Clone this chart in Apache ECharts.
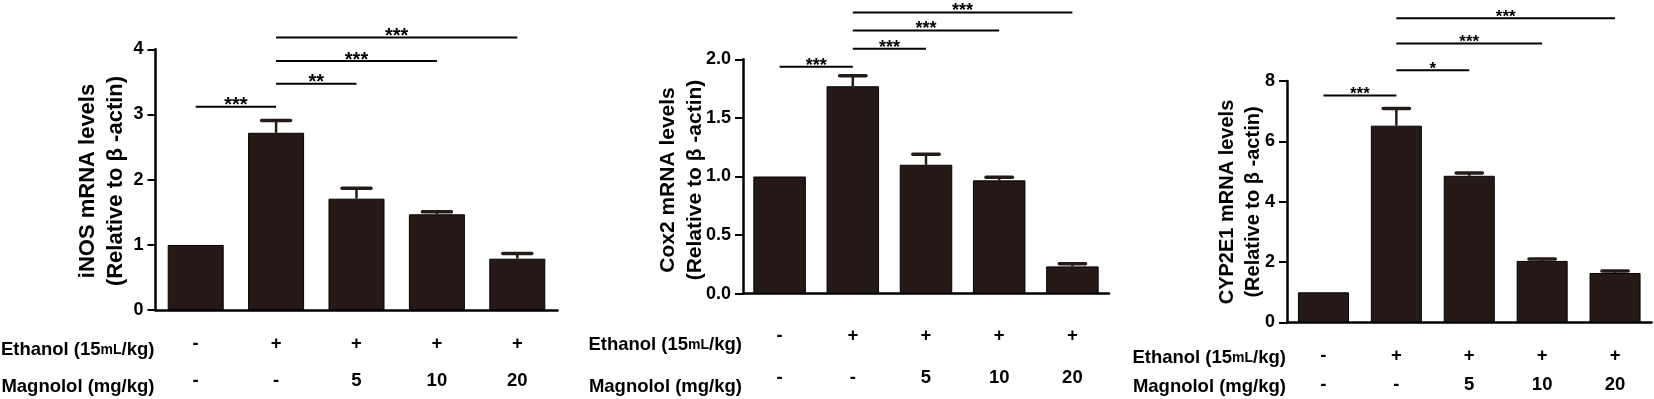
<!DOCTYPE html>
<html>
<head>
<meta charset="utf-8">
<title>mRNA levels</title>
<script src="https://cdn.jsdelivr.net/npm/echarts@6/dist/echarts.min.js"></script>
<style>
  html, body { margin: 0; padding: 0; background: #fff; }
  #chart { width: 1654px; height: 399px; }
</style>
</head>
<body>
<div id="chart"></div>
<script>
// groups and treatment rows
const groups = ['Control', 'Ethanol', 'Ethanol+Mag5', 'Ethanol+Mag10', 'Ethanol+Mag20'];
const ethanolRow = ['-', '+', '+', '+', '+'];
const magnololRow = ['-', '-', '5', '10', '20'];

// mean values and upper error (SEM)
const inosMean = [1.0, 2.72, 1.71, 1.47, 0.79];
const inosErr = [0, 0.19, 0.16, 0.04, 0.08];
const cox2Mean = [1.0, 1.77, 1.10, 0.967, 0.233];
const cox2Err = [0, 0.09, 0.09, 0.027, 0.022];
const cypMean = [1.0, 6.52, 4.86, 2.04, 1.64];
const cypErr = [0, 0.57, 0.09, 0.06, 0.07];

// significance brackets: [from group, to group, height]
const inosSig = [[0, 1, 3.12], [1, 2, 3.47], [1, 3, 3.82], [1, 4, 4.18]];
const inosStars = ['***', '**', '***', '***'];
const cox2Sig = [[0, 1, 1.937], [1, 2, 2.09], [1, 3, 2.246], [1, 4, 2.40]];
const cox2Stars = ['***', '***', '***', '***'];
const cypSig = [[0, 1, 7.52], [1, 2, 8.36], [1, 3, 9.24], [1, 4, 10.08]];
const cypStars = ['***', '*', '***', '***'];

const ink = '#000';
const barColor = '#251a17';
const font = 'Arial, "Liberation Sans", sans-serif';

const panels = [
  {
    mean: inosMean, err: inosErr, sig: inosSig, stars: inosStars,
    title: 'iNOS mRNA levels\n(Relative to β -actin)', yMax: 4, yStep: 1, digits: 0,
    grid: { left: 155.5, top: 49.3, width: 402, height: 267.4 },
    barWidth: 56, titleX: 101.8, titleY: 181, titleSize: 22, titleLH: 28.5,
    rowMargin: 14.8, rowLH: 37, starSize: 20
  },
  {
    mean: cox2Mean, err: cox2Err, sig: cox2Sig, stars: cox2Stars,
    title: 'Cox2 mRNA levels\n(Relative to β -actin)', yMax: 2, yStep: 0.5, digits: 1,
    grid: { left: 743, top: 59.3, width: 366, height: 243.4 },
    barWidth: 52.5, titleX: 682, titleY: 180, titleSize: 21, titleLH: 27,
    rowMargin: 21.3, rowLH: 42, starSize: 18
  },
  {
    mean: cypMean, err: cypErr, sig: cypSig, stars: cypStars,
    title: 'CYP2E1 mRNA levels\n(Relative to β -actin)', yMax: 8, yStep: 2, digits: 0,
    grid: { left: 1287, top: 81, width: 364.5, height: 244 },
    barWidth: 51, titleX: 1240.5, titleY: 202, titleSize: 20, titleLH: 26.5,
    rowMargin: 18.5, rowLH: 29, starSize: 17
  }
];

function errorItem(params, api) {
  const e = api.value(2);
  if (!e) return null;
  const m = api.value(1);
  const base = api.coord([api.value(0), m]);
  const top = api.coord([api.value(0), m + e]);
  const half = api.size([1, 0])[0] * 0.18;
  return {
    type: 'group',
    children: [
      { type: 'line', shape: { x1: base[0], y1: base[1], x2: top[0], y2: top[1] },
        style: { stroke: barColor, lineWidth: 2.5 } },
      { type: 'line', shape: { x1: top[0] - half, y1: top[1], x2: top[0] + half, y2: top[1] },
        style: { stroke: barColor, lineWidth: 3.5, lineCap: 'round' } }
    ]
  };
}

function sigItem(stars, size) {
  return function (params, api) {
    const a = api.coord([api.value(0), api.value(2)]);
    const b = api.coord([api.value(1), api.value(2)]);
    return {
      type: 'group',
      children: [
        { type: 'line', shape: { x1: a[0], y1: a[1], x2: b[0], y2: b[1] },
          style: { stroke: ink, lineWidth: 2 } },
        { type: 'text', x: (a[0] + b[0]) / 2, y: a[1] - 1,
          style: { text: stars[params.dataIndex], align: 'center', verticalAlign: 'middle',
                   font: 'bold ' + size + 'px ' + font, fill: ink } }
      ]
    };
  };
}

const option = {
  backgroundColor: '#fff',
  animation: false,
  grid: panels.map(p => p.grid),
  xAxis: panels.map((p, k) => ({
    gridIndex: k,
    type: 'category',
    data: groups,
    axisLine: { lineStyle: { color: ink, width: 2.5 } },
    axisTick: { alignWithLabel: true, length: 8, lineStyle: { color: ink, width: 2 } },
    axisLabel: {
      margin: p.rowMargin,
      lineHeight: p.rowLH,
      fontSize: 18.5,
      fontWeight: 'bold',
      fontFamily: font,
      color: ink,
      formatter: (v, i) => ethanolRow[i] + '\n' + magnololRow[i]
    }
  })),
  yAxis: panels.map((p, k) => ({
    gridIndex: k,
    type: 'value',
    min: 0,
    max: p.yMax,
    interval: p.yStep,
    splitLine: { show: false },
    axisLine: { show: true, lineStyle: { color: ink, width: 2.5 } },
    axisTick: { show: true, length: 8, lineStyle: { color: ink, width: 2 } },
    axisLabel: {
      margin: 12,
      fontSize: 18,
      fontWeight: 'bold',
      fontFamily: font,
      color: ink,
      formatter: v => v.toFixed(p.digits)
    }
  })),
  series: [],
  graphic: []
};

panels.forEach((p, k) => {
  option.series.push({
    type: 'bar',
    xAxisIndex: k,
    yAxisIndex: k,
    data: p.mean,
    barWidth: p.barWidth,
    itemStyle: { color: barColor, borderColor: ink, borderWidth: 1 }
  });
  option.series.push({
    type: 'custom',
    xAxisIndex: k,
    yAxisIndex: k,
    renderItem: errorItem,
    data: p.mean.map((m, i) => [i, m, p.err[i]]),
    encode: { x: 0, y: 1 },
    z: 3
  });
  option.series.push({
    type: 'custom',
    xAxisIndex: k,
    yAxisIndex: k,
    renderItem: sigItem(p.stars, p.starSize),
    data: p.sig,
    encode: { x: [0, 1], y: 2 },
    clip: false,
    z: 4
  });

  // rotated y-axis title
  option.graphic.push({
    type: 'text',
    x: p.titleX,
    y: p.titleY,
    rotation: Math.PI / 2,
    style: {
      text: p.title, align: 'center', verticalAlign: 'middle',
      font: 'bold ' + p.titleSize + 'px ' + font, lineHeight: p.titleLH, fill: ink
    }
  });

  // row headers, right-aligned to the y axis
  const axisY = p.grid.top + p.grid.height;
  const row1 = axisY + p.rowMargin + p.rowLH / 2;
  const headers = [
    { text: 'Ethanol (15{s|mL}/kg)', y: row1 },
    { text: 'Magnolol (mg/kg)', y: row1 + p.rowLH }
  ];
  headers.forEach(h => {
    option.graphic.push({
      type: 'text',
      x: p.grid.left - 1,
      y: h.y,
      style: {
        text: h.text, align: 'right', verticalAlign: 'middle',
        font: 'bold 18.5px ' + font, fill: ink,
        rich: { s: { fontSize: 14, fontWeight: 'bold', fontFamily: font, fill: ink } }
      }
    });
  });
});

const myChart = echarts.init(document.getElementById('chart'));
myChart.setOption(option);
</script>
</body>
</html>
